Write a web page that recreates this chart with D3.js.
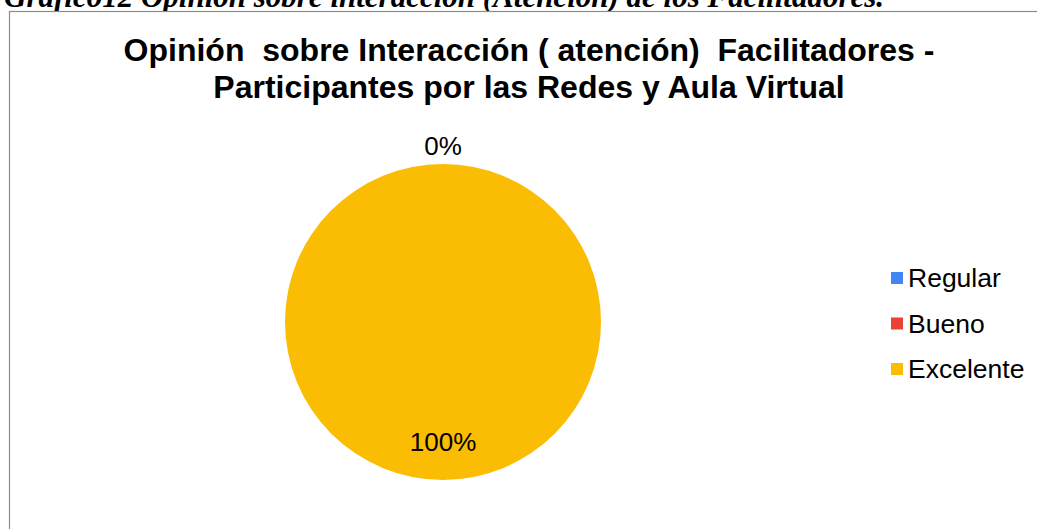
<!DOCTYPE html>
<html>
<head>
<meta charset="utf-8">
<script src="https://cdn.jsdelivr.net/npm/d3@7"></script>
<style>
  body { margin: 0; background: #fff; }
  svg { display: block; }
</style>
</head>
<body>
<div id="chart"></div>
<script>
var categories = ["Regular", "Bueno", "Excelente"];
var values = [0, 0, 100];
var colors = ["#4285F4", "#EA4335", "#FBBC04"];
var titleLines = ["Opinión  sobre Interacción ( atención)  Facilitadores -", "Participantes por las Redes y Aula Virtual"];
var caption = "Grafico12 Opinión sobre interacción (Atención) de los Facilitadores.";

var width = 1037, height = 529;

var svg = d3.select("#chart").append("svg")
            .attr("width", width)
            .attr("height", height);

// caption above the frame, cut at the top like the page it came from
svg.append("text")
   .attr("x", 4)
   .attr("y", 7)
   .attr("font-family", "Liberation Serif, serif")
   .attr("font-style", "italic")
   .attr("font-weight", "bold")
   .attr("font-size", 31)
   .text(caption);

// chart frame
svg.append("rect")
   .attr("x", 9.5)
   .attr("y", 11.5)
   .attr("width", 1100)
   .attr("height", 600)
   .attr("fill", "#fff")
   .attr("stroke", "#8c8c8c")
   .attr("stroke-width", 1.2);

svg.selectAll("text.title")
   .data(titleLines)
   .enter()
   .append("text")
   .attr("class", "title")
   .attr("x", 529)
   .attr("y", function(d, i) { return 61 + i * 37; })
   .attr("text-anchor", "middle")
   .attr("font-family", "Liberation Sans, Arial, sans-serif")
   .attr("font-weight", "bold")
   .attr("font-size", 32)
   .attr("xml:space", "preserve")
   .style("white-space", "pre")
   .text(function(d) { return d; });

var cx = 443, cy = 322, radius = 158;

var pie = d3.pie().sort(null).value(function(d) { return d.value; });
var data = categories.map(function(c, i) { return {name: c, value: values[i], color: colors[i]}; });
var arcs = pie(data);
var total = d3.sum(values);

var arc = d3.arc().innerRadius(0).outerRadius(radius);
var labelArc = d3.arc().innerRadius(radius * 0.76).outerRadius(radius * 0.76);
var outerArc = d3.arc().innerRadius(radius + 18).outerRadius(radius + 18);

var g = svg.append("g").attr("transform", "translate(" + cx + "," + cy + ")");

g.selectAll("path")
 .data(arcs)
 .enter()
 .append("path")
 .attr("d", arc)
 .attr("fill", function(d) { return d.data.color; });

// zero slices share the same spot, so draw one outside label for them
var labels = arcs.filter(function(d) { return d.data.value > 0; });
var zeros = arcs.filter(function(d) { return d.data.value === 0; });
if (zeros.length) labels.push(zeros[0]);

g.selectAll("text.pct")
 .data(labels)
 .enter()
 .append("text")
 .attr("class", "pct")
 .attr("transform", function(d) {
   var p = d.data.value > 0 ? labelArc.centroid(d) : outerArc.centroid(d);
   return "translate(" + p + ")";
 })
 .attr("text-anchor", "middle")
 .attr("dy", "0.35em")
 .attr("font-family", "Liberation Sans, Arial, sans-serif")
 .attr("font-size", 26)
 .attr("fill", "#000")
 .text(function(d) { return Math.round(d.data.value / total * 100) + "%"; });

var legend = svg.selectAll("g.legend")
                .data(data)
                .enter()
                .append("g")
                .attr("class", "legend")
                .attr("transform", function(d, i) { return "translate(891," + (278 + i * 45.5) + ")"; });

legend.append("rect")
      .attr("x", 0)
      .attr("y", -6)
      .attr("width", 12)
      .attr("height", 12)
      .attr("fill", function(d) { return d.color; });

legend.append("text")
      .attr("x", 17)
      .attr("dy", "0.35em")
      .attr("font-family", "Liberation Sans, Arial, sans-serif")
      .attr("font-size", 26.5)
      .text(function(d) { return d.name; });
</script>
</body>
</html>
